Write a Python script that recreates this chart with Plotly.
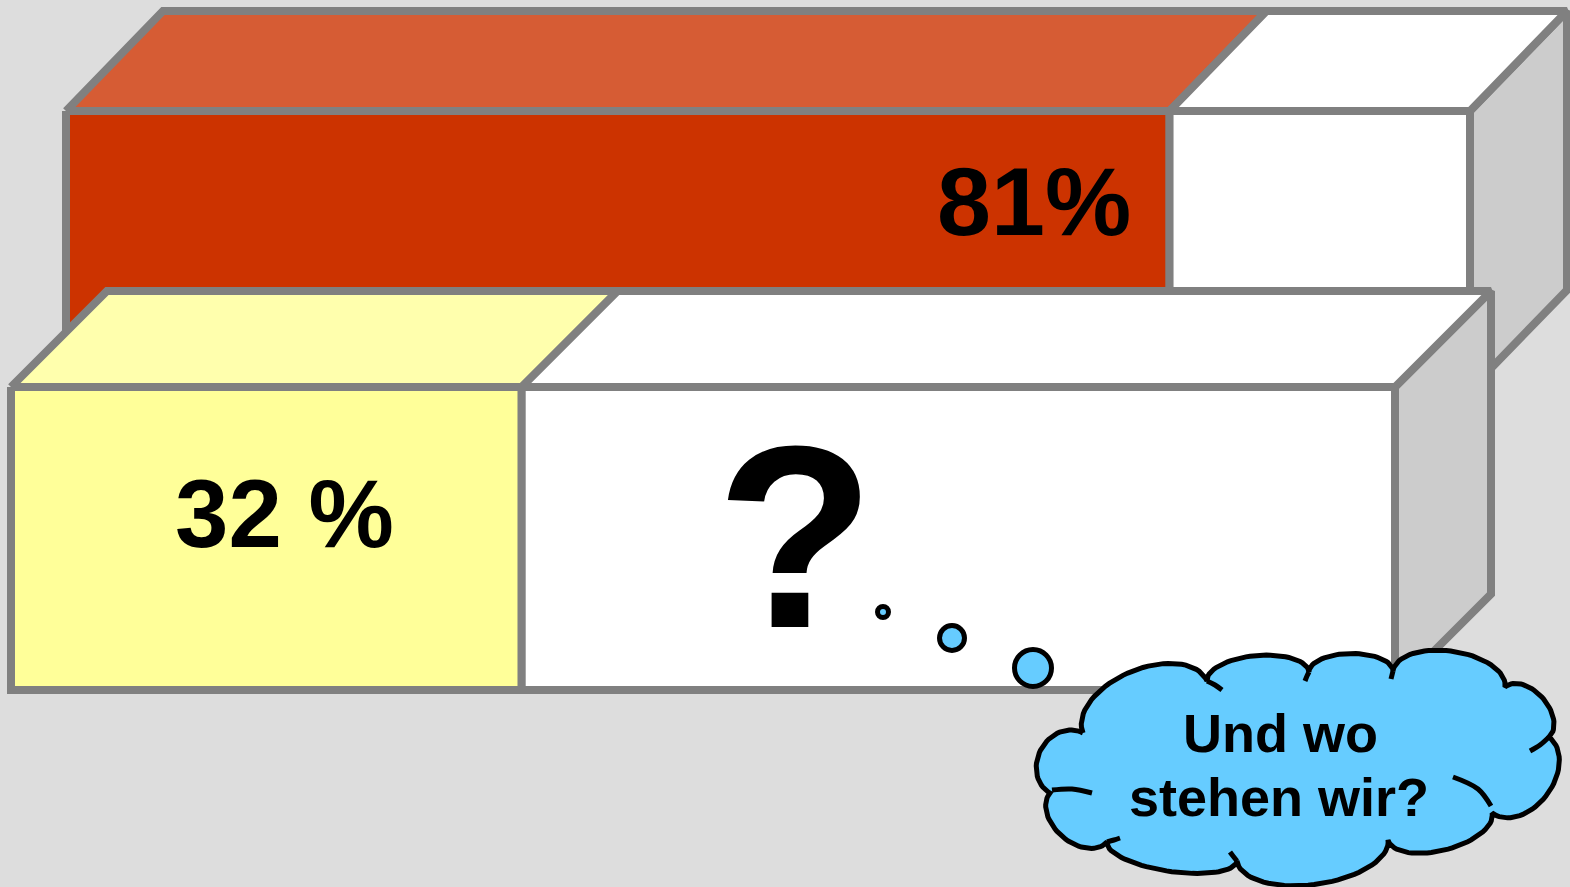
import numpy as np
import plotly.graph_objects as go

# ---------------- data ----------------
bar_labels = ["81%", "32 %"]          # printed values
filled_share = [78.6, 36.9]           # share of each bar drawn filled (percent of bar length)
question_text = "?"
cloud_lines = ["Und wo", "stehen wir?"]

# ---------------- style / geometry ----------------
W, H = 1570, 887
BG = "#dddddd"
OUTLINE = "#808080"
OW = 8
bars = [  # x0, x1, y_top, y_bottom, depth dx, depth dy, front fill, top fill
    dict(x0=66, x1=1470, yt=111, yb=390, dx=97, dy=-100, front="#cc3300", top="#d65c34"),
    dict(x0=11, x1=1395, yt=387, yb=690, dx=96, dy=-96, front="#ffff99", top="#ffffad"),
]
EMPTY_FRONT = "#ffffff"
EMPTY_TOP = "#ffffff"
SIDE = "#cccccc"
CLOUD = "#66ccff"
CLW = 5
FONT = "Liberation Sans, Arial, sans-serif"

fig = go.Figure()


def face(xs, ys, color, lc=OUTLINE, lw=OW):
    fig.add_trace(go.Scatter(
        x=list(xs) + [xs[0]], y=list(ys) + [ys[0]], mode="lines",
        fill="toself", fillcolor=color, line=dict(color=lc, width=lw),
        hoverinfo="skip", showlegend=False))


for b, share in zip(bars, filled_share):
    x0, x1, yt, yb, dx, dy = b["x0"], b["x1"], b["yt"], b["yb"], b["dx"], b["dy"]
    xs = x0 + share / 100.0 * (x1 - x0)
    # right side face
    face([x1, x1 + dx, x1 + dx, x1], [yt, yt + dy, yb + dy, yb], SIDE)
    # top faces
    face([x0, xs, xs + dx, x0 + dx], [yt, yt, yt + dy, yt + dy], b["top"])
    face([xs, x1, x1 + dx, xs + dx], [yt, yt, yt + dy, yt + dy], EMPTY_TOP)
    # front faces
    face([x0, xs, xs, x0], [yt, yt, yb, yb], b["front"])
    face([xs, x1, x1, xs], [yt, yt, yb, yb], EMPTY_FRONT)

# thought bubbles
fig.add_trace(go.Scatter(
    x=[883, 952, 1033], y=[612, 638, 668], mode="markers",
    marker=dict(size=[11, 25, 37], color=CLOUD, opacity=1,
                line=dict(color="black", width=CLW)),
    hoverinfo="skip", showlegend=False))

# cloud callout
cusps = [(1083, 733), (1207, 681), (1309, 672), (1393, 671), (1505, 687), (1549, 737),
         (1492, 813), (1388, 840), (1237, 861), (1107, 842), (1050, 793)]
bulges = [38, 21, 18, 28, 21, 33, 24, 34, 20, 25, 29]
cx, cy = [], []
for i in range(len(cusps)):
    p1 = np.array(cusps[i], float)
    p2 = np.array(cusps[(i + 1) % len(cusps)], float)
    m = (p1 + p2) / 2
    hv = (p2 - p1) / 2
    L = np.hypot(*(p2 - p1))
    n = np.array([(p2 - p1)[1], -(p2 - p1)[0]]) / L
    t = np.linspace(0, np.pi, 40)
    pts = m[None, :] - np.cos(t)[:, None] * hv[None, :] + np.sin(t)[:, None] * bulges[i] * n[None, :]
    cx += list(pts[:, 0])
    cy += list(pts[:, 1])
fig.add_trace(go.Scatter(x=cx + [cx[0]], y=cy + [cy[0]], mode="lines", fill="toself",
                         fillcolor=CLOUD, line=dict(color="black", width=CLW),
                         hoverinfo="skip", showlegend=False))
strokes = [
    [(1207, 681), (1215, 685), (1222, 690)],
    [(1309, 672), (1307, 676), (1305, 681)],
    [(1393, 671), (1392, 675), (1391, 679)],
    [(1549, 737), (1540, 745), (1530, 751)],
    [(1453, 777), (1478, 789), (1491, 806)],
    [(1237, 861), (1233, 856), (1230, 852)],
    [(1107, 842), (1114, 840), (1120, 838)],
    [(1052, 790), (1072, 789), (1092, 793)],
]
for s in strokes:
    fig.add_trace(go.Scatter(x=[p[0] for p in s], y=[p[1] for p in s], mode="lines",
                             line=dict(color="black", width=CLW, shape="spline"),
                             hoverinfo="skip", showlegend=False))

# texts
b0, b1 = bars
xs0 = b0["x0"] + filled_share[0] / 100 * (b0["x1"] - b0["x0"])
xs1 = b1["x0"] + filled_share[1] / 100 * (b1["x1"] - b1["x0"])
ann = [
    dict(x=xs0 - 136, y=201, text=bar_labels[0], size=97),
    dict(x=(b1["x0"] + xs1) / 2 + 18, y=513, text=bar_labels[1], size=96),
    dict(x=795, y=537, text=question_text, size=260),
    dict(x=1280, y=733, text=cloud_lines[0], size=54),
    dict(x=1279, y=797, text=cloud_lines[1], size=54),
]
for a in ann:
    fig.add_annotation(x=a["x"], y=a["y"], xref="x", yref="y", text=a["text"],
                       showarrow=False, xanchor="center", yanchor="middle",
                       font=dict(family=FONT, size=a["size"], color="black", weight="bold"))

fig.update_layout(
    width=W, height=H, margin=dict(l=0, r=0, t=0, b=0),
    paper_bgcolor=BG, plot_bgcolor=BG, showlegend=False,
    xaxis=dict(range=[0, W], visible=False, fixedrange=True),
    yaxis=dict(range=[H, 0], visible=False, fixedrange=True),
)
fig.write_html("out.html", post_script="document.body.style.margin='0';")
